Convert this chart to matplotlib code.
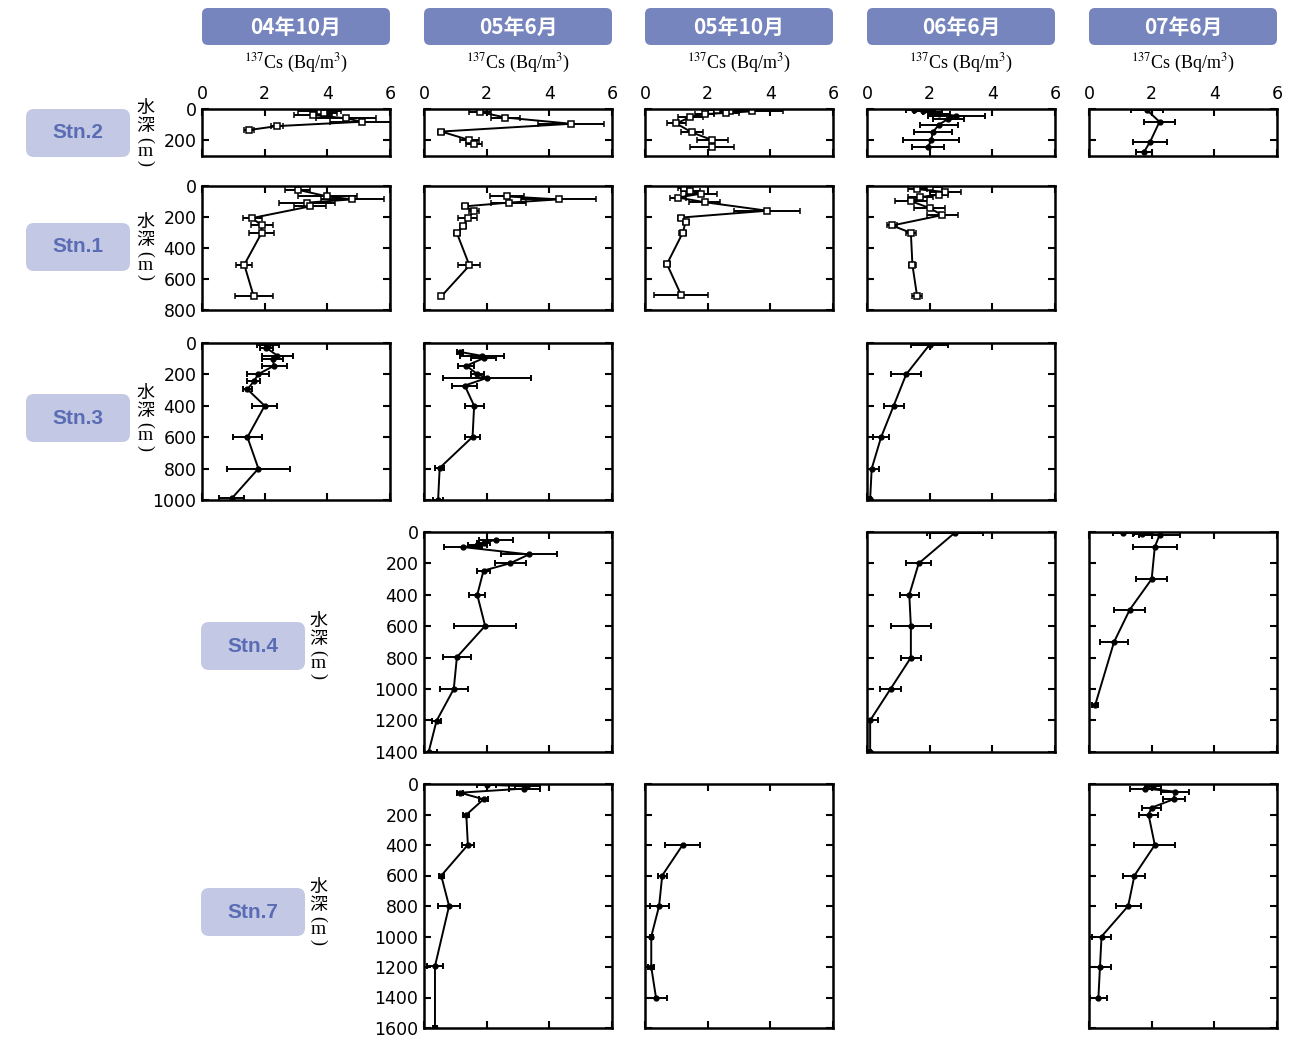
import matplotlib.pyplot as plt
from matplotlib.patches import FancyBboxPatch

plt.rcParams['font.family'] = ['DejaVu Sans']
plt.rcParams['mathtext.fontset'] = 'stix'

# sampling periods (columns) and stations (rows)
months = ['04年10月', '05年6月', '05年10月', '06年6月', '07年6月']
stations = ['Stn.2', 'Stn.1', 'Stn.3', 'Stn.4', 'Stn.7']
max_depth = [300, 800, 1000, 1400, 1600]
x_ticks = [0, 2, 4, 6]

# ---- data: depth (m), 137Cs (Bq/m3), error ----
# Stn.2
s2_c0_d = [13, 25, 39, 60, 82, 110, 135]
s2_c0_cs = [3.75, 3.9, 3.55, 4.6, 5.1, 2.4, 1.5]
s2_c0_e = [0.7, 0.4, 0.6, 0.95, 1.0, 0.2, 0.15]

s2_c1_d = [20, 55, 95, 145, 200, 228]
s2_c1_cs = [1.8, 2.6, 4.7, 0.55, 1.45, 1.6]
s2_c1_e = [0.35, 0.45, 1.05, 0.1, 0.3, 0.25]

s2_c2_d = [5, 10, 15, 25, 33, 51, 93, 151, 200, 244]
s2_c2_cs = [2.3, 2.7, 3.4, 2.6, 1.9, 1.45, 1.0, 1.5, 2.15, 2.15]
s2_c2_e = [0.3, 0.3, 1.0, 0.4, 0.3, 0.4, 0.3, 0.35, 0.5, 0.7]

s2_c3_d = [5, 10, 20, 30, 44, 62, 100, 149, 200, 244]
s2_c3_cs = [1.5, 1.8, 2.1, 2.3, 2.85, 2.6, 2.3, 2.1, 2.05, 1.95]
s2_c3_e = [0.25, 0.3, 0.3, 0.35, 0.9, 0.5, 0.6, 0.6, 0.9, 0.5]

s2_c4_d = [7, 82, 211, 278]
s2_c4_cs = [1.85, 2.25, 1.95, 1.75]
s2_c4_e = [0.5, 0.5, 0.55, 0.25]

# Stn.1
s1_c0_d = [24, 67, 86, 107, 131, 206, 253, 303, 506, 710]
s1_c0_cs = [3.05, 4.0, 4.8, 3.35, 3.45, 1.6, 1.9, 1.9, 1.35, 1.65]
s1_c0_e = [0.4, 0.95, 1.0, 0.9, 0.5, 0.3, 0.35, 0.4, 0.25, 0.6]

s1_c1_d = [67, 86, 107, 131, 161, 206, 260, 303, 511, 710]
s1_c1_cs = [2.65, 4.3, 2.7, 1.3, 1.6, 1.4, 1.25, 1.05, 1.45, 0.55]
s1_c1_e = [0.55, 1.2, 0.55, 0.1, 0.15, 0.3, 0.1, 0.1, 0.35, 0.05]

s1_c2_d = [11, 32, 49, 74, 104, 159, 203, 229, 303, 502, 700]
s1_c2_cs = [1.25, 1.45, 1.8, 1.05, 1.9, 3.9, 1.15, 1.3, 1.2, 0.7, 1.15]
s1_c2_e = [0.2, 0.3, 0.5, 0.25, 0.5, 1.05, 0.1, 0.1, 0.1, 0.1, 0.85]

s1_c3_d = [8, 20, 39, 55, 71, 97, 142, 187, 254, 301, 508, 710]
s1_c3_cs = [2.0, 1.6, 2.5, 2.3, 1.7, 1.4, 2.0, 2.4, 0.8, 1.4, 1.45, 1.6]
s1_c3_e = [0.4, 0.3, 0.5, 0.3, 0.4, 0.5, 0.5, 0.5, 0.15, 0.15, 0.1, 0.15]

# Stn.3
s3_c0_d = [10, 30, 80, 100, 145, 198, 245, 295, 400, 600, 800, 990]
s3_c0_cs = [2.1, 2.05, 2.4, 2.25, 2.3, 1.8, 1.65, 1.45, 2.0, 1.45, 1.8, 0.95]
s3_c0_e = [0.35, 0.2, 0.5, 0.35, 0.4, 0.35, 0.2, 0.15, 0.4, 0.45, 1.0, 0.4]

s3_c1_d = [57, 82, 97, 145, 198, 223, 271, 400, 598, 796, 1000]
s3_c1_cs = [1.15, 1.85, 1.9, 1.35, 1.7, 2.0, 1.3, 1.6, 1.55, 0.5, 0.45]
s3_c1_e = [0.1, 0.7, 0.4, 0.25, 0.2, 1.4, 0.4, 0.3, 0.25, 0.15, 0.15]

s3_c3_d = [10, 200, 400, 600, 800, 995]
s3_c3_cs = [2.0, 1.25, 0.85, 0.45, 0.15, 0.1]
s3_c3_e = [0.6, 0.48, 0.32, 0.25, 0.22, 0.03]

# Stn.4
s4_c1_d = [50, 68, 85, 96, 143, 199, 246, 400, 598, 797, 1000, 1203, 1400]
s4_c1_cs = [2.3, 1.9, 1.7, 1.25, 3.35, 2.75, 1.9, 1.7, 1.95, 1.05, 0.95, 0.4, 0.15]
s4_c1_e = [0.55, 0.2, 0.3, 0.6, 0.9, 0.5, 0.2, 0.25, 1.0, 0.45, 0.45, 0.15, 0.25]

s4_c3_d = [5, 200, 400, 600, 800, 1000, 1200, 1400]
s4_c3_cs = [2.8, 1.65, 1.35, 1.4, 1.4, 0.75, 0.1, 0.1]
s4_c3_e = [0.9, 0.4, 0.3, 0.65, 0.33, 0.35, 0.25, 0.03]

s4_c4_d = [5, 10, 20, 95, 300, 495, 700, 1100]
s4_c4_cs = [1.1, 1.7, 2.25, 2.1, 2.0, 1.3, 0.8, 0.2]
s4_c4_e = [0.35, 0.3, 0.65, 0.7, 0.5, 0.5, 0.45, 0.1]

# Stn.7
s7_c1_d = [5, 15, 30, 57, 100, 202, 399, 601, 800, 1195, 1600]
s7_c1_cs = [2.0, 3.3, 3.2, 1.15, 1.9, 1.35, 1.4, 0.55, 0.8, 0.35, 0.35]
s7_c1_e = [0.3, 0.4, 0.5, 0.1, 0.15, 0.1, 0.2, 0.08, 0.35, 0.25, 0.05]

s7_c2_d = [400, 600, 800, 1000, 1200, 1400]
s7_c2_cs = [1.2, 0.55, 0.45, 0.2, 0.2, 0.35]
s7_c2_e = [0.55, 0.15, 0.3, 0.05, 0.1, 0.35]

s7_c4_d = [10, 30, 50, 100, 155, 200, 400, 600, 800, 1000, 1200, 1400]
s7_c4_cs = [2.05, 1.8, 2.75, 2.7, 2.0, 1.9, 2.1, 1.45, 1.25, 0.4, 0.35, 0.3]
s7_c4_e = [0.25, 0.5, 0.45, 0.35, 0.3, 0.3, 0.65, 0.35, 0.4, 0.3, 0.35, 0.27]

# (row, col, depth, cs, err, open square marker?)
panels = [
    (0, 0, s2_c0_d, s2_c0_cs, s2_c0_e, True),
    (0, 1, s2_c1_d, s2_c1_cs, s2_c1_e, True),
    (0, 2, s2_c2_d, s2_c2_cs, s2_c2_e, True),
    (0, 3, s2_c3_d, s2_c3_cs, s2_c3_e, False),
    (0, 4, s2_c4_d, s2_c4_cs, s2_c4_e, False),
    (1, 0, s1_c0_d, s1_c0_cs, s1_c0_e, True),
    (1, 1, s1_c1_d, s1_c1_cs, s1_c1_e, True),
    (1, 2, s1_c2_d, s1_c2_cs, s1_c2_e, True),
    (1, 3, s1_c3_d, s1_c3_cs, s1_c3_e, True),
    (2, 0, s3_c0_d, s3_c0_cs, s3_c0_e, False),
    (2, 1, s3_c1_d, s3_c1_cs, s3_c1_e, False),
    (2, 3, s3_c3_d, s3_c3_cs, s3_c3_e, False),
    (3, 1, s4_c1_d, s4_c1_cs, s4_c1_e, False),
    (3, 3, s4_c3_d, s4_c3_cs, s4_c3_e, False),
    (3, 4, s4_c4_d, s4_c4_cs, s4_c4_e, False),
    (4, 1, s7_c1_d, s7_c1_cs, s7_c1_e, False),
    (4, 2, s7_c2_d, s7_c2_cs, s7_c2_e, False),
    (4, 4, s7_c4_d, s7_c4_cs, s7_c4_e, False),
]

# layout in pixels
W, H = 1309, 1041
col_left = [202, 424, 645, 867, 1089]
col_w = 188
row_top = [109, 186, 343, 532, 784]
px_per_m = [0.1555, 0.1555, 0.157, 0.157, 0.1525]
first_col = [0, 0, 0, 1, 1]
label_x = [26, 26, 26, 201, 201]
label_yc = [133, 247, 418, 646, 912]

header_col = '#7785be'
stn_box_col = '#c3c9e5'
stn_txt_col = '#5a6cb3'

fig = plt.figure(figsize=(W / 100, H / 100), dpi=100)

# overlay in pixel coordinates for the decorations
ov = fig.add_axes([0, 0, 1, 1])
ov.set_xlim(0, W)
ov.set_ylim(H, 0)
ov.axis('off')

for i, m in enumerate(months):
    x0 = col_left[i]
    ov.add_patch(FancyBboxPatch((x0, 8), col_w, 37, boxstyle='round,pad=0,rounding_size=6',
                                fc=header_col, ec='none'))
    ov.text(x0 + col_w / 2, 27, m, color='white', fontsize=15, fontweight='bold',
            family=['Noto Sans CJK JP', 'DejaVu Sans'], ha='center', va='center')
    ov.text(x0 + col_w / 2, 63, r'$^{137}$Cs (Bq/m$^{3}$)', fontsize=13,
            family='Liberation Serif', ha='center', va='center')

cjk = ['Noto Sans CJK JP', 'DejaVu Sans']
for r, s in enumerate(stations):
    yc = label_yc[r]
    ov.add_patch(FancyBboxPatch((label_x[r], yc - 24), 104, 48, boxstyle='round,pad=0,rounding_size=8',
                                fc=stn_box_col, ec='none'))
    ov.text(label_x[r] + 52, yc, s, color=stn_txt_col, fontsize=15, fontweight='bold',
            family='Liberation Sans', ha='center', va='center')
    # vertical axis label 水深(m)
    xl = label_x[r] + 119 if r < 3 else label_x[r] + 117
    ov.text(xl, yc - 25, '水', fontsize=13, family=cjk, ha='center', va='center')
    ov.text(xl, yc - 7, '深', fontsize=13, family=cjk, ha='center', va='center')
    ov.text(xl, yc + 7, '(', fontsize=13, family='Liberation Serif', rotation=-90, ha='center', va='center')
    ov.text(xl, yc + 18, 'm', fontsize=14, family='Liberation Serif', ha='center', va='center')
    ov.text(xl, yc + 30, ')', fontsize=13, family='Liberation Serif', rotation=-90, ha='center', va='center')

for r, c, d, cs, e, sq in panels:
    h = max_depth[r] * px_per_m[r]
    ax = fig.add_axes([col_left[c] / W, 1 - (row_top[r] + h) / H, col_w / W, h / H])
    if sq:
        ax.errorbar(cs, d, xerr=e, color='k', lw=1.4, elinewidth=1.4, capsize=2.5, capthick=1.4,
                    marker='s', ms=4, mfc='white', mec='k', mew=1.1)
    else:
        ax.errorbar(cs, d, xerr=e, color='k', lw=1.4, elinewidth=1.4, capsize=2.5, capthick=1.4,
                    marker='o', ms=3.5, mfc='k', mec='k')
    ax.set_xlim(0, 6)
    ax.set_ylim(max_depth[r], 0)
    ax.set_xticks(x_ticks)
    ax.set_yticks(range(0, max_depth[r] + 1, 200))
    ax.tick_params(direction='in', top=True, right=True, length=5, width=1.5,
                   labelsize=12.5, labelbottom=False, labeltop=(r == 0),
                   labelleft=(c == first_col[r]), pad=4)
    for sp in ax.spines.values():
        sp.set_linewidth(1.8)

fig.savefig('out.png', dpi=100)
